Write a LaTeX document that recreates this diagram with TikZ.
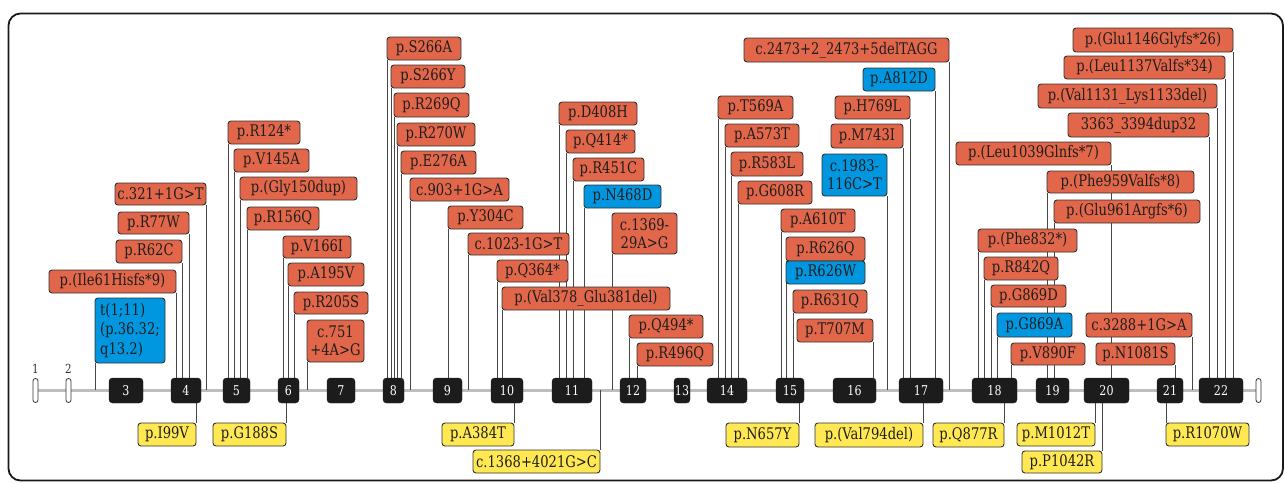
\documentclass[tikz,border=0pt]{standalone}
\usepackage{fontspec}
\setmainfont{DejaVu Serif}[FakeStretch=0.82]
\usetikzlibrary{calc}
\pgfdeclarelayer{back}\pgfdeclarelayer{mid}
\pgfsetlayers{back,mid,main}
\definecolor{org}{RGB}{226,103,74}
\definecolor{blu}{RGB}{0,150,224}
\definecolor{yel}{RGB}{255,232,82}
\definecolor{edgec}{RGB}{50,50,50}
\definecolor{exn}{RGB}{28,28,28}
\definecolor{conncol}{RGB}{70,70,70}
\definecolor{axisc}{RGB}{190,190,190}
\tikzset{
 lbl/.style={draw=edgec, line width=0.9pt, rounded corners=3pt, inner sep=0pt,
   font=\fontsize{16}{18}\selectfont, text={rgb,255:red,30;green,30;blue,30}, align=center},
 lor/.style={lbl, fill=org},
 lbl2/.style={lbl, fill=blu},
 lye/.style={lbl, fill=yel},
 exon/.style={fill=exn, draw=exn, rounded corners=3.5pt, minimum height=25pt, inner sep=0pt,
   text=white, font=\fontsize{13.5}{13.5}\selectfont},
 smallex/.style={fill=white, draw=edgec, line width=0.8pt, rounded corners=2.5pt,
   minimum height=24pt, minimum width=5pt, inner sep=0pt},
 cn/.style={draw=conncol, line width=0.9pt},
 axisl/.style={draw=axisc, line width=2.2pt},
 numlab/.style={font=\fontsize{12.5}{12.5}\selectfont, text=edgec, inner sep=0pt},
}
\newcommand\Lab[7]{\node[#6, minimum width={(#4)-(#2)}, minimum height={(#5)-(#3)}] (#1) at ({((#2)+(#4))/2},{((#3)+(#5))/2}) {#7};}
\newcommand\Ex[4]{\node[exon, minimum width={(#3)-(#2)}] (#1) at ({((#2)+(#3))/2},390.5) {#4};}
\newcommand\UL[2]{\draw[cn] ([xshift=0.4pt]#1.south west) -- ([xshift=0.4pt]#1.south west |- #2.north);}
\newcommand\UR[2]{\draw[cn] ([xshift=-0.4pt]#1.south east) -- ([xshift=-0.4pt]#1.south east |- #2.north);}
\newcommand\DL[2]{\draw[cn] ([xshift=0.4pt]#1.north west) -- ([xshift=0.4pt]#1.north west |- #2.south);}
\newcommand\DR[2]{\draw[cn] ([xshift=-0.4pt]#1.north east) -- ([xshift=-0.4pt]#1.north east |- #2.south);}
\begin{document}
\begin{tikzpicture}[x=1pt,y=-1pt]
\useasboundingbox (0,0) rectangle (1285,482);
\draw[line width=1.8pt, draw={rgb,255:red,25;green,25;blue,25}, rounded corners=12pt] (8.5,13.5) rectangle (1283,480.5);
% axis reference
\node[inner sep=0pt, minimum height=0pt, minimum width=1228pt] (ax) at (647,390) {};
% exons
\node[smallex] (e1) at (35.5,390.5) {};
\node[smallex] (e2) at (68.5,390.5) {};
\node[smallex] (e23) at (1258.5,390.5) {};
\node[numlab] (n1) at (35.5,369) {1};
\node[numlab] (n2) at (68.5,369) {2};
\Ex{e3}{109}{143}{3}
\Ex{e4}{171}{201}{4}
\Ex{e5}{223}{250}{5}
\Ex{e6}{278}{299}{6}
\Ex{e7}{327}{355}{7}
\Ex{e8}{383}{404}{8}
\Ex{e9}{433}{462}{9}
\Ex{e10}{491}{523}{10}
\Ex{e11}{552}{592}{11}
\Ex{e12}{620}{646}{12}
\Ex{e13}{674}{690}{13}
\Ex{e14}{707}{747}{14}
\Ex{e15}{776}{804}{15}
\Ex{e16}{833}{876}{16}
\Ex{e17}{899}{943}{17}
\Ex{e18}{972}{1017}{18}
\Ex{e19}{1036}{1069}{19}
\Ex{e20}{1084}{1129}{20}
\Ex{e21}{1157}{1183}{21}
\Ex{e22}{1199}{1243}{22}
% labels above
\Lab{a01}{115}{183}{206}{205}{lor}{c.321+1G>T}
\Lab{a02}{118}{212}{189}{234}{lor}{p.R77W}
\Lab{a03}{116}{240}{182}{263}{lor}{p.R62C}
\Lab{a04}{49}{270}{176}{293}{lor}{p.(Ile61Hisfs*9)}
\Lab{a05}{95}{298}{165}{363}{lbl2,align=left,font=\fontsize{16}{19.3}\selectfont}{t(1;11)\\(p.36.32;\\q13.2)}
\Lab{a06}{228}{121}{300}{144}{lor}{p.R124*}
\Lab{a07}{234}{149}{309}{172}{lor}{p.V145A}
\Lab{a08}{240}{177}{357}{200}{lor}{p.(Gly150dup)}
\Lab{a09}{247}{207}{319}{230}{lor}{p.R156Q}
\Lab{a10}{283}{236}{351}{258}{lor}{p.V166I}
\Lab{a11}{288}{263}{364}{286}{lor}{p.A195V}
\Lab{a12}{294}{292}{368}{314}{lor}{p.R205S}
\Lab{a13}{307}{320}{364}{362}{lor}{c.751\\+4A>G}
\Lab{a14}{387}{37}{461}{60}{lor}{p.S266A}
\Lab{a15}{391}{65}{465}{88}{lor}{p.S266Y}
\Lab{a16}{394}{93}{469}{117}{lor}{p.R269Q}
\Lab{a17}{397}{123}{475}{146}{lor}{p.R270W}
\Lab{a18}{401}{151}{476}{174}{lor}{p.E276A}
\Lab{a19}{410}{178}{509}{201}{lor}{c.903+1G>A}
\Lab{a20}{448}{206}{523}{229}{lor}{p.Y304C}
\Lab{a21}{468}{233}{569}{255}{lor}{c.1023-1G>T}
\Lab{a22}{497}{260}{568}{282}{lor}{p.Q364*}
\Lab{a23}{502}{287}{670}{310}{lor}{p.(Val378\_Glu381del)}
\Lab{a24}{559}{102}{637}{125}{lor}{p.D408H}
\Lab{a25}{566}{130}{635}{153}{lor}{p.Q414*}
\Lab{a26}{573}{158}{644}{181}{lor}{p.R451C}
\Lab{a27}{584}{185}{661}{208}{lbl2}{p.N468D}
\Lab{a28}{612}{213}{677}{254}{lor}{c.1369-\\29A>G}
\Lab{a29}{629}{315}{703}{338}{lor}{p.Q494*}
\Lab{a30}{637}{343}{713}{366}{lor}{p.R496Q}
\Lab{a31}{718}{96}{793}{119}{lor}{p.T569A}
\Lab{a32}{725}{124}{799}{147}{lor}{p.A573T}
\Lab{a33}{731}{152}{803}{176}{lor}{p.R583L}
\Lab{a34}{738}{181}{812}{204}{lor}{p.G608R}
\Lab{a35}{781}{209}{855}{232}{lor}{p.A610T}
\Lab{a36}{786}{237}{865}{261}{lor}{p.R626Q}
\Lab{a37}{786}{261}{865}{284}{lbl2}{p.R626W}
\Lab{a38}{793}{290}{867}{313}{lor}{p.R631Q}
\Lab{a39}{797}{319}{873}{342}{lor}{p.T707M}
\Lab{a40}{822}{154}{887}{196}{lbl2}{c.1983-\\116C>T}
\Lab{a41}{831}{124}{903}{148}{lor}{p.M743I}
\Lab{a42}{835}{96}{910}{119}{lor}{p.H769L}
\Lab{a43}{863}{68}{935}{91}{lbl2}{p.A812D}
\Lab{a44}{744}{38}{949}{62}{lor}{c.2473+2\_2473+5delTAGG}
\Lab{a45}{978}{229}{1077}{252}{lor}{p.(Phe832*)}
\Lab{a46}{984}{257}{1058}{280}{lor}{p.R842Q}
\Lab{a47}{991}{285}{1066}{307}{lor}{p.G869D}
\Lab{a48}{997}{313}{1072}{337}{lbl2}{p.G869A}
\Lab{a49}{1011}{343}{1085}{365}{lor}{p.V890F}
\Lab{a50}{1047}{171}{1194}{193}{lor}{p.(Phe959Valfs*8)}
\Lab{a51}{1054}{200}{1200}{223}{lor}{p.(Glu961Argfs*6)}
\Lab{a52}{956}{142}{1111}{165}{lor}{p.(Leu1039Glnfs*7)}
\Lab{a53}{1096}{343}{1175}{365}{lor}{p.N1081S}
\Lab{a54}{1086}{313}{1192}{337}{lor}{c.3288+1G>A}
\Lab{a55}{1068}{113}{1209}{137}{lor}{3363\_3394dup32}
\Lab{a56}{1038}{84}{1217}{108}{lor}{p.(Val1131\_Lys1133del)}
\Lab{a57}{1064}{56}{1225}{79}{lor}{p.(Leu1137Valfs*34)}
\Lab{a58}{1073}{28}{1233}{52}{lor}{p.(Glu1146Glyfs*26)}
% labels below
\Lab{b01}{138}{423}{196}{446}{lye}{p.I99V}
\Lab{b02}{213}{423}{286}{446}{lye}{p.G188S}
\Lab{b03}{442}{423}{514}{446}{lye}{p.A384T}
\Lab{b04}{473}{450}{600}{473}{lye}{c.1368+4021G>C}
\Lab{b05}{726}{423}{799}{447}{lye}{p.N657Y}
\Lab{b06}{815}{423}{923}{447}{lye}{p.(Val794del)}
\Lab{b07}{933}{423}{1004}{447}{lye}{p.Q877R}
\Lab{b08}{1017}{423}{1095}{446}{lye}{p.M1012T}
\Lab{b09}{1022}{451}{1102}{473}{lye}{p.P1042R}
\Lab{b10}{1166}{423}{1249}{446}{lye}{p.R1070W}
\begin{pgfonlayer}{back}
\draw[axisl] (e1.center) -- (e23.center);
\end{pgfonlayer}
\begin{pgfonlayer}{mid}
\UR{a01}{ax} \UR{a02}{e4} \UR{a03}{e4} \UR{a04}{e4} \UL{a05}{ax}
\UL{a06}{e5} \UL{a07}{e5} \UL{a08}{e5} \UL{a09}{e5}
\UL{a10}{e6} \UL{a11}{e6} \UL{a12}{e6} \UL{a13}{ax}
\UL{a14}{e8} \UL{a15}{e8} \UL{a16}{e8} \UL{a17}{e8} \UL{a18}{e8}
\UL{a19}{ax} \UL{a20}{e9} \UL{a21}{ax} \UL{a22}{e10} \UL{a23}{e10}
\UL{a24}{e11} \UL{a25}{e11} \UL{a26}{e11} \UL{a27}{e11} \UL{a28}{ax}
\UL{a29}{e12} \UL{a30}{e12}
\UL{a31}{e14} \UL{a32}{e14} \UL{a33}{e14} \UL{a34}{e14}
\UL{a35}{e15} \UL{a36}{e15} \UL{a37}{e15} \UL{a38}{e15}
\UR{a39}{e16} \UR{a40}{ax} \UR{a41}{e17} \UR{a42}{e17} \UR{a43}{e17} \UR{a44}{ax}
\UL{a45}{e18} \UL{a46}{e18} \UL{a47}{e18} \UL{a48}{e18} \UL{a49}{e18}
\UL{a50}{e19} \UL{a51}{e19} \UR{a52}{e20} \UR{a53}{e21} \UR{a54}{ax}
\UR{a55}{e22} \UR{a56}{e22} \UR{a57}{e22} \UR{a58}{e22}
\DR{b01}{e4} \DR{b02}{e6} \DR{b03}{e10} \DR{b04}{ax} \DR{b05}{e15}
\DR{b06}{e17} \DR{b07}{e18} \DR{b08}{e20} \DR{b09}{e20} \DL{b10}{e21}
\end{pgfonlayer}
\end{tikzpicture}
\end{document}
